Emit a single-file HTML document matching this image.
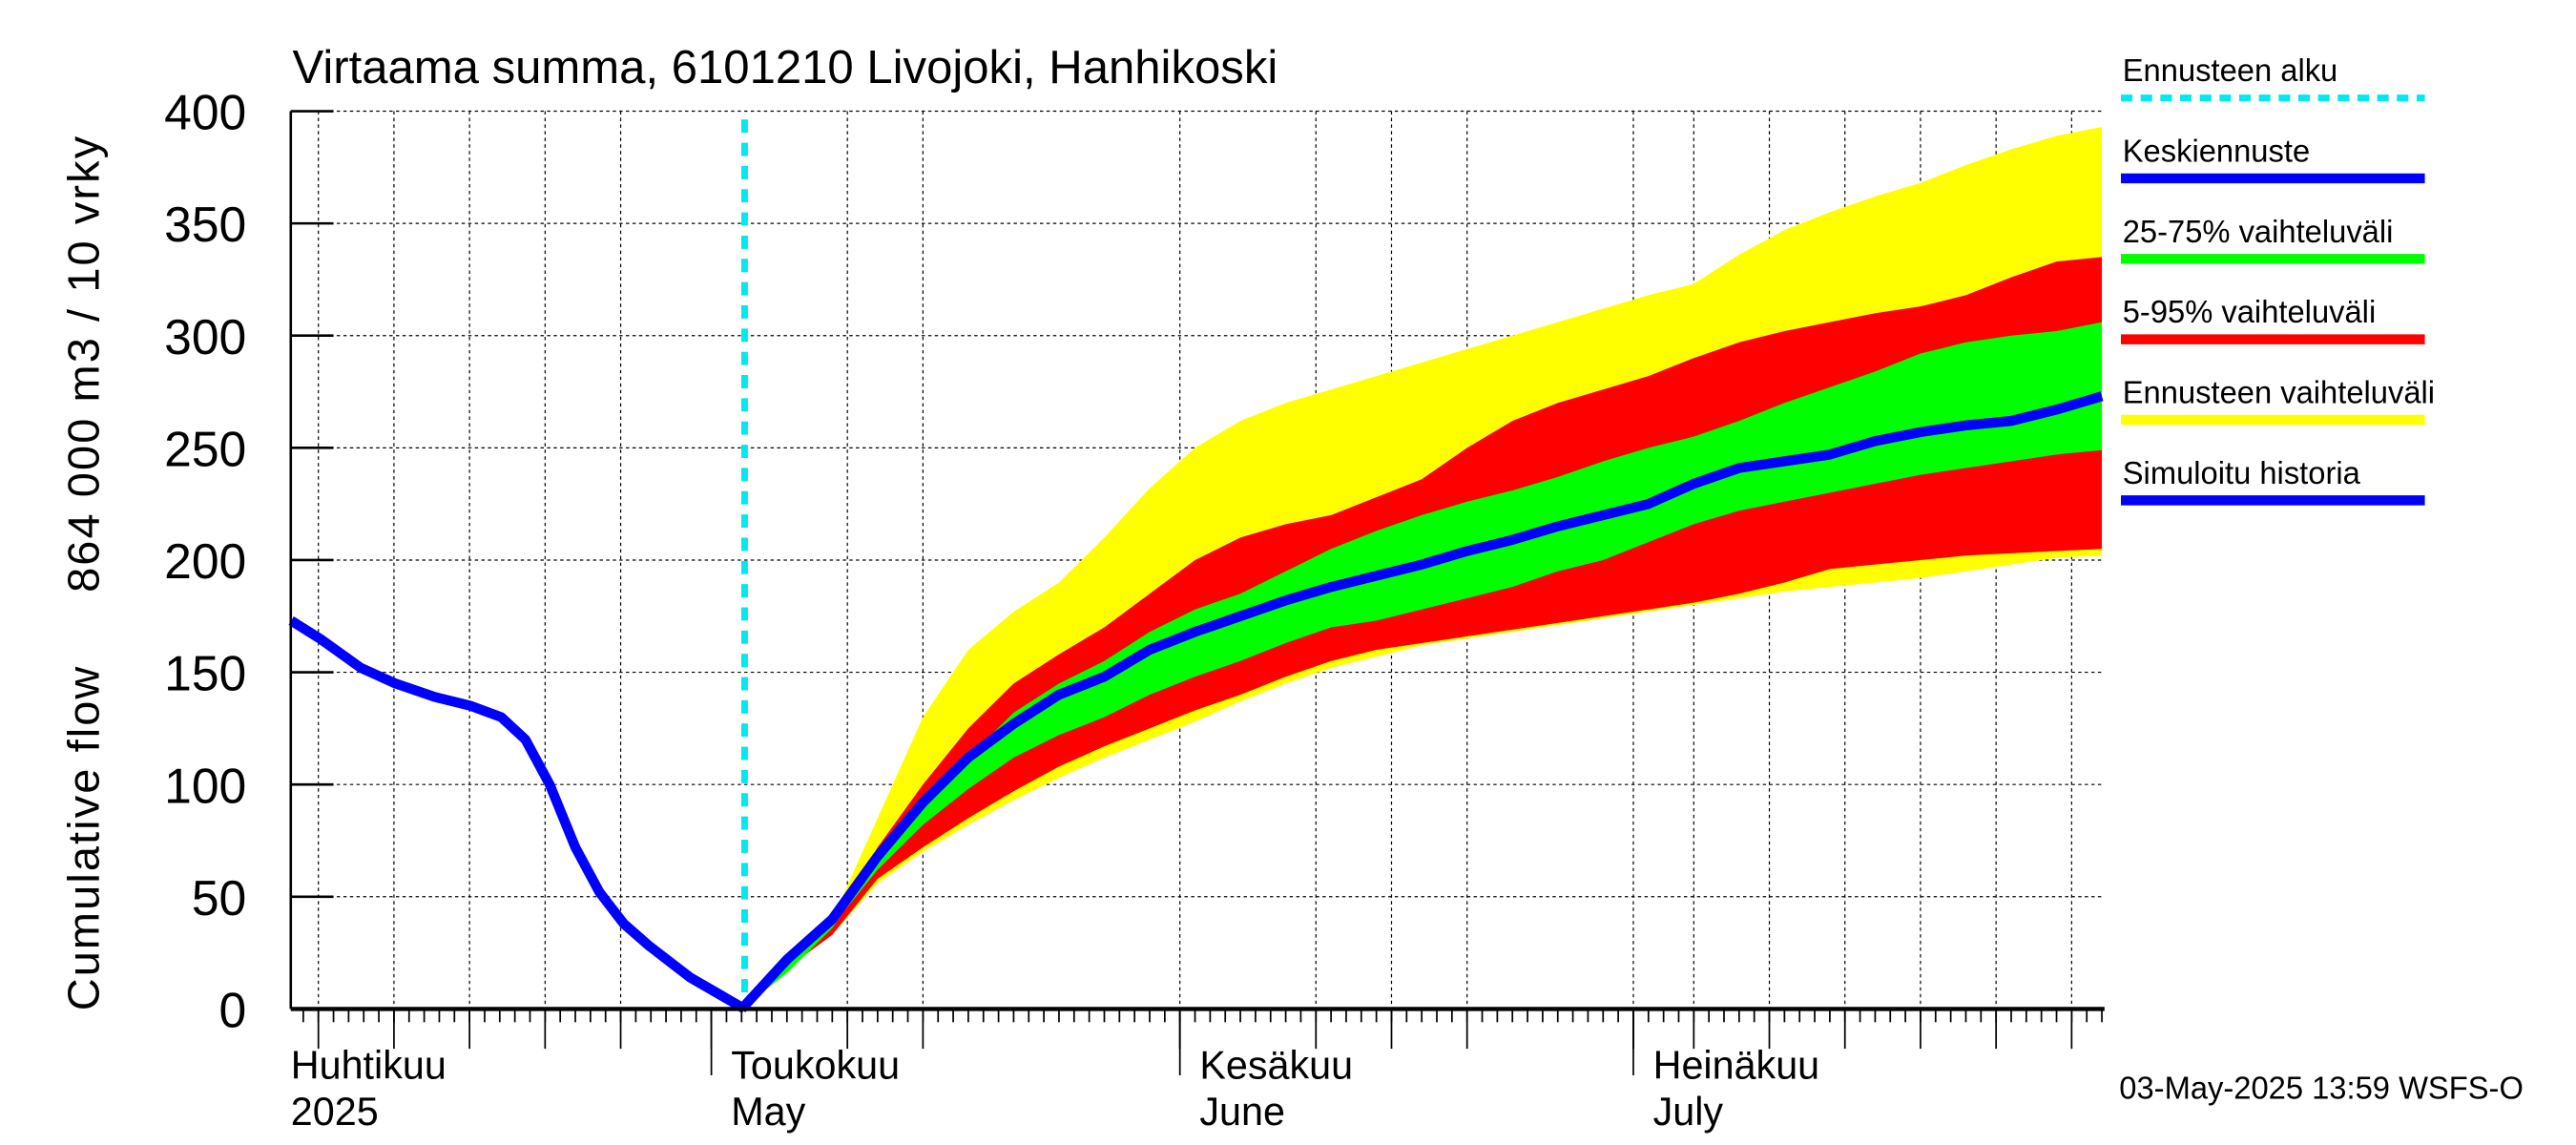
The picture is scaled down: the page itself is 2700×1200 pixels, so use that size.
<!DOCTYPE html>
<html><head><meta charset="utf-8"><style>html,body{margin:0;padding:0;background:#fff}svg{display:block}text{font-family:"Liberation Sans",sans-serif}</style></head>
<body>
<svg id="chart" width="2700" height="1200" viewBox="0 0 1568 690" preserveAspectRatio="none" xmlns="http://www.w3.org/2000/svg">
<rect width="1568" height="690" fill="#fff"/>
<g id="grid"></g>
<g id="bands"></g>
<g id="lines"></g>
<g id="axes"></g>
<text x="178" y="50" font-size="28.5">Virtaama summa, 6101210 Livojoki, Hanhikoski</text>
<text transform="translate(60,345) rotate(-90)" text-anchor="middle" font-size="27" letter-spacing="1.2" style="white-space:pre" xml:space="preserve">Cumulative flow     864 000 m3 / 10 vrky</text>
<text x="1290" y="662" font-size="19">03-May-2025 13:59 WSFS-O</text>
<g id="legend"></g>
</svg>
<script>
const days=[2,5,8,11,14,17,20,23,26,29,32,35,38,41,44,47,50,53,56,59,62,65,68,71,74,77,80,83,86,89,92];
const yellowMax=[0,20,40,85,130,160,177,190,210,232,250,262,270,276,282,288,294,300,306,312,318,323,336,347,355,362,368,376,383,389,393];
const redMax=[0,18,38,72,100,125,145,158,170,185,200,210,216,220,228,236,250,262,270,276,282,290,297,302,306,310,313,318,326,333,335];
const greenMax=[0,16,36,65,90,112,132,145,155,168,178,185,195,205,213,220,226,231,237,244,250,255,262,270,277,284,292,297,300,302,306];
const median=[0,22,40,68,92,112,127,140,148,160,168,175,182,188,193,198,204,209,215,220,225,234,241,244,247,253,257,260,262,267,273];
const greenMin=[0,20,37,62,82,98,112,122,130,140,148,155,163,170,173,178,183,188,195,200,208,216,222,226,230,234,238,241,244,247,249];
const redMin=[0,18,33,58,72,85,97,108,117,125,133,140,148,155,160,163,166,169,172,175,178,181,185,190,196,198,200,202,203,204,205];
const yellowMin=[0,18,33,56,70,82,93,103,112,120,128,137,145,152,157,162,165,168,171,174,177,180,183,186,188,190,192,195,198,201,202];
const histDays=[-27.8,-25.9,-23.2,-20.9,-18.3,-15.9,-13.9,-12.3,-10.7,-9.0,-7.4,-5.8,-4.1,-1.4,2.2];
const histVals=[173,165,152,145,139,135,130,120,100,72,52,38,28,14,0];
const yTicks=[0,50,100,150,200,250,300,350,400];
const gridDays=[-26,-21,-16,-11,-6,9,14,31,40,45,50,61,65,70,75,80,85,90];
const monthDays=[-30,0,31,61];
const monthLabels=[["Huhtikuu","2025"],["Toukokuu","May"],["Kesäkuu","June"],["Heinäkuu","July"]];
const forecastStart=2.2;
const X0=177,X1=1281,Y0=608,Y1=67;
const x=d=>433+d*9.2;
const y=v=>Y0-(v/400)*(Y0-Y1);
const NS="http://www.w3.org/2000/svg";
function mk(tag,parent,attrs){const e=document.createElementNS(NS,tag);for(const k in attrs)e.setAttribute(k,attrs[k]);parent.appendChild(e);return e;}
const grid=document.getElementById('grid'),bands=document.getElementById('bands'),lines=document.getElementById('lines'),axes=document.getElementById('axes'),legend=document.getElementById('legend');
yTicks.forEach(v=>{if(v>0){const l=mk('line',grid,{x1:X0,x2:X1,y1:y(v),y2:y(v),stroke:'#000','stroke-width':0.7,'stroke-dasharray':'2,2'});

}
const t=mk('text',axes,{x:150,y:y(v)+11,'text-anchor':'end','font-size':30});t.textContent=v;


mk('line',axes,{x1:X0,x2:X0+26,y1:y(v),y2:y(v),stroke:'#000','stroke-width':1.5});});
gridDays.forEach(d=>{const l=mk('line',grid,{x1:x(d),x2:x(d),y1:Y1,y2:Y0,stroke:'#000','stroke-width':0.7,'stroke-dasharray':'2,2'});

});
function band(up,lo,col,name){let p=days.map((d,i)=>x(d)+','+y(up[i]));for(let i=days.length-1;i>=0;i--)p.push(x(days[i])+','+y(lo[i]));
const e=mk('polygon',bands,{points:p.join(' '),fill:col});

}
band(yellowMax,yellowMin,'#ffff00','band-forecast-range');
band(redMax,redMin,'#ff0000','band-5-95');
band(greenMax,greenMin,'#00ff00','band-25-75');
const cs=mk('line',lines,{x1:x(forecastStart),x2:x(forecastStart),y1:Y1+5,y2:Y0,stroke:'#00e8f0','stroke-width':4,'stroke-dasharray':'8,6'});


const hp=mk('polyline',lines,{points:histDays.map((d,i)=>x(d)+','+y(histVals[i])).join(' '),fill:'none',stroke:'#0000ff','stroke-width':6,'stroke-linejoin':'round'});


const mp=mk('polyline',lines,{points:days.map((d,i)=>x(d)+','+y(median[i])).join(' '),fill:'none',stroke:'#0000ff','stroke-width':6,'stroke-linejoin':'round'});


mk('line',axes,{x1:X0,x2:X0,y1:Y1,y2:Y0,stroke:'#000','stroke-width':1.5});
mk('line',axes,{x1:X0,x2:X1,y1:Y0,y2:Y0,stroke:'#000','stroke-width':2.5});
for(let d=-27;d<=92;d++){mk('line',axes,{x1:x(d),x2:x(d),y1:Y0,y2:Y0+8,stroke:'#000','stroke-width':1});}
gridDays.concat(monthDays).forEach(d=>{if(x(d)>=X0)mk('line',axes,{x1:x(d),x2:x(d),y1:Y0,y2:Y0+24,stroke:'#000','stroke-width':1});});
mk('line',axes,{x1:433,x2:433,y1:Y0,y2:Y0+40,stroke:'#000','stroke-width':1});
mk('line',axes,{x1:x(31),x2:x(31),y1:Y0,y2:Y0+40,stroke:'#000','stroke-width':1});
mk('line',axes,{x1:x(61),x2:x(61),y1:Y0,y2:Y0+40,stroke:'#000','stroke-width':1});
monthDays.forEach((d,i)=>{const lx=i==0?X0:x(d)+12;
const t=mk('text',axes,{x:lx,y:650,'font-size':24});t.textContent=monthLabels[i][0];


const t2=mk('text',axes,{x:lx,y:678,'font-size':24});t2.textContent=monthLabels[i][1];

});
const leg=[["Ennusteen alku","#00e8f0",true],["Keskiennuste","#0000ff"],["25-75% vaihteluväli","#00ff00"],["5-95% vaihteluväli","#ff0000"],["Ennusteen vaihteluväli","#ffff00"],["Simuloitu historia","#0000ff"]];
leg.forEach((e,i)=>{const yy=49+i*48.5;
const t=mk('text',legend,{x:1292,y:yy,'font-size':19});t.textContent=e[0];


const l=mk('line',legend,{x1:1291,x2:1476,y1:yy+10,y2:yy+10,stroke:e[1],'stroke-width':e[2]?4:6});
if(e[2])l.setAttribute('stroke-dasharray','7,5');

});
</script>
</body></html>
